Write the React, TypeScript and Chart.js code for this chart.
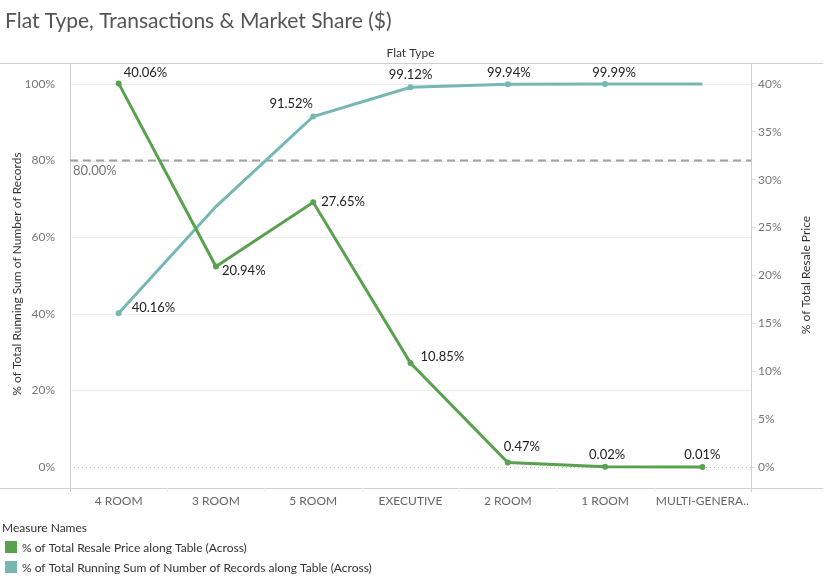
import React, { useEffect, useRef } from "react";
import { Chart, registerables } from "chart.js";

Chart.register(...registerables);

const categories = ["4 ROOM", "3 ROOM", "5 ROOM", "EXECUTIVE", "2 ROOM", "1 ROOM", "MULTI-GENERA.."];
const resalePriceShare = [40.06, 20.94, 27.65, 10.85, 0.47, 0.02, 0.01];
const runningRecordsShare = [40.16, 68.0, 91.52, 99.12, 99.94, 99.99, 100.0];
const leftTicks = [0, 20, 40, 60, 80, 100];
const rightTicks = [0, 5, 10, 15, 20, 25, 30, 35, 40];
const referenceValue = 80;

const GREEN = "#59A14F";
const TEAL = "#76B7B2";
const FONT = "Lato, 'Open Sans', sans-serif";

// label placement: [dx, dy, align] relative to the point (null = no label)
const greenLabelPos: ([number, number, CanvasTextAlign] | null)[] = [
  [5, -11, "left"],
  [6, 4, "left"],
  [8, 0, "left"],
  [10, -6, "left"],
  [-4, -16, "left"],
  [2, -12, "center"],
  [0, -12, "center"],
];
const tealLabelPos: ([number, number, CanvasTextAlign] | null)[] = [
  [13, -5, "left"],
  null,
  [-22, -13, "center"],
  [0, -13, "center"],
  [1, -11, "center"],
  [9, -11, "center"],
  null,
];

const decorPlugin = {
  id: "decor",
  beforeDatasetsDraw(chart: any) {
    const ctx = chart.ctx;
    const { left, right, top, bottom } = chart.chartArea;
    const y = chart.scales.y;
    const x = chart.scales.x;
    ctx.save();
    // gridlines
    leftTicks.forEach((v) => {
      const py = Math.round(y.getPixelForValue(v)) + 0.5;
      ctx.beginPath();
      ctx.lineWidth = 1;
      if (v === 0) {
        ctx.setLineDash([1, 3]);
        ctx.strokeStyle = "#b8b8b8";
      } else {
        ctx.setLineDash([]);
        ctx.strokeStyle = "#ececec";
      }
      ctx.moveTo(left, py);
      ctx.lineTo(right, py);
      ctx.stroke();
    });
    ctx.setLineDash([]);
    // borders
    ctx.strokeStyle = "#cfcfcf";
    ctx.lineWidth = 1;
    ctx.beginPath();
    ctx.moveTo(0, Math.round(top) + 0.5);
    ctx.lineTo(chart.width, Math.round(top) + 0.5);
    ctx.moveTo(0, Math.round(bottom) + 0.5);
    ctx.lineTo(chart.width, Math.round(bottom) + 0.5);
    ctx.moveTo(Math.round(left) + 0.5, top);
    ctx.lineTo(Math.round(left) + 0.5, bottom + 4);
    ctx.moveTo(Math.round(right) + 0.5, top);
    ctx.lineTo(Math.round(right) + 0.5, bottom + 4);
    ctx.stroke();
    // category separators
    ctx.strokeStyle = "#ececec";
    ctx.beginPath();
    for (let i = 1; i < categories.length; i++) {
      const px = Math.round((x.getPixelForValue(i - 1) + x.getPixelForValue(i)) / 2) + 0.5;
      ctx.moveTo(px, bottom);
      ctx.lineTo(px, bottom + 4);
    }
    ctx.stroke();
    // reference line
    const ry = y.getPixelForValue(referenceValue);
    ctx.strokeStyle = "#a0a0a0";
    ctx.lineWidth = 2;
    ctx.setLineDash([8, 5]);
    ctx.beginPath();
    ctx.moveTo(left, ry);
    ctx.lineTo(right, ry);
    ctx.stroke();
    ctx.setLineDash([]);
    ctx.fillStyle = "#777";
    ctx.font = `13px ${FONT}`;
    ctx.textAlign = "left";
    ctx.textBaseline = "middle";
    ctx.fillText(referenceValue.toFixed(2) + "%", left + 3, ry + 10);
    ctx.restore();
  },
  afterDraw(chart: any) {
    const ctx = chart.ctx;
    const { left, right } = chart.chartArea;
    ctx.save();
    // title
    ctx.fillStyle = "#555";
    ctx.font = `21px ${FONT}`;
    ctx.textAlign = "left";
    ctx.textBaseline = "middle";
    ctx.fillText("Flat Type, Transactions & Market Share ($)", 5, 21);
    // header
    ctx.fillStyle = "#333";
    ctx.font = `12px ${FONT}`;
    ctx.textAlign = "center";
    ctx.fillText("Flat Type", (left + right) / 2, 53);
    // axis titles
    ctx.save();
    ctx.translate(17, 274);
    ctx.rotate(-Math.PI / 2);
    ctx.fillText("% of Total Running Sum of Number of Records", 0, 0);
    ctx.restore();
    ctx.save();
    ctx.translate(806, 275);
    ctx.rotate(-Math.PI / 2);
    ctx.fillText("% of Total Resale Price", 0, 0);
    ctx.restore();
    // data labels
    ctx.font = `13px ${FONT}`;
    ctx.fillStyle = "#222";
    const posSets = [greenLabelPos, tealLabelPos];
    chart.data.datasets.forEach((ds: any, di: number) => {
      const meta = chart.getDatasetMeta(di);
      meta.data.forEach((pt: any, i: number) => {
        const p = posSets[di][i];
        if (!p) return;
        ctx.textAlign = p[2];
        ctx.fillText(ds.data[i].toFixed(2) + "%", pt.x + p[0], pt.y + p[1]);
      });
    });
    // legend
    ctx.textAlign = "left";
    ctx.fillStyle = "#333";
    ctx.font = `12px ${FONT}`;
    ctx.fillText("Measure Names", 2, 528);
    const items = [
      [GREEN, "% of Total Resale Price along Table (Across)"],
      [TEAL, "% of Total Running Sum of Number of Records along Table (Across)"],
    ];
    ctx.font = `12px ${FONT}`;
    items.forEach((it, k) => {
      ctx.fillStyle = it[0];
      ctx.fillRect(5, 541 + k * 20, 12, 12);
      ctx.fillStyle = "#333";
      ctx.fillText(it[1], 22, 548 + k * 20);
    });
    ctx.restore();
  },
};

export default function App() {
  const ref = useRef<HTMLCanvasElement>(null);
  useEffect(() => {
    document.body.style.margin = "0";
    const chart = new Chart(ref.current!, {
      type: "line",
      data: {
        labels: categories,
        datasets: [
          {
            label: "% of Total Resale Price along Table (Across)",
            data: resalePriceShare,
            yAxisID: "y2",
            borderColor: GREEN,
            backgroundColor: GREEN,
            borderWidth: 3,
            pointRadius: 3,
            pointHoverRadius: 3,
            pointBorderWidth: 0,
            tension: 0,
          },
          {
            label: "% of Total Running Sum of Number of Records along Table (Across)",
            data: runningRecordsShare,
            yAxisID: "y",
            borderColor: TEAL,
            backgroundColor: TEAL,
            borderWidth: 3,
            pointRadius: [3, 0, 3, 3, 3, 3, 0],
            pointHoverRadius: 3,
            pointBorderWidth: 0,
            tension: 0,
          },
        ],
      },
      options: {
        responsive: false,
        animation: false,
        layout: { padding: { top: 63, left: 0, right: 0, bottom: 0 } },
        plugins: { legend: { display: false }, tooltip: { enabled: false }, title: { display: false } },
        scales: {
          x: {
            offset: true,
            grid: { display: false },
            border: { display: false },
            ticks: { color: "#666", font: { family: FONT, size: 12 }, padding: -2, maxRotation: 0, autoSkip: false },
            afterFit: (s: any) => {
              s.height = 90;
            },
          },
          y: {
            position: "left",
            min: -5.48,
            max: 105.48,
            grid: { display: false },
            border: { display: false },
            afterBuildTicks: (s: any) => {
              s.ticks = leftTicks.map((v) => ({ value: v }));
            },
            ticks: {
              color: "#777",
              font: { family: FONT, size: 12 },
              padding: 7,
              callback: (v: any) => v + "%",
            },
            afterFit: (s: any) => {
              s.width = 70;
            },
          },
          y2: {
            position: "right",
            min: -2.19,
            max: 42.19,
            grid: { display: true, drawOnChartArea: false, drawTicks: true, tickLength: 5, tickColor: "#e0e0e0" },
            border: { display: false },
            afterBuildTicks: (s: any) => {
              s.ticks = rightTicks.map((v) => ({ value: v }));
            },
            ticks: {
              color: "#777",
              font: { family: FONT, size: 12 },
              padding: 2,
              callback: (v: any) => v + "%",
            },
            afterFit: (s: any) => {
              s.width = 72;
            },
          },
        },
      },
      plugins: [decorPlugin],
    });
    return () => chart.destroy();
  }, []);
  return (
    <div style={{ position: "absolute", left: 0, top: 0, width: 823, height: 578, background: "#fff" }}>
      <canvas ref={ref} width={823} height={578} />
    </div>
  );
}
